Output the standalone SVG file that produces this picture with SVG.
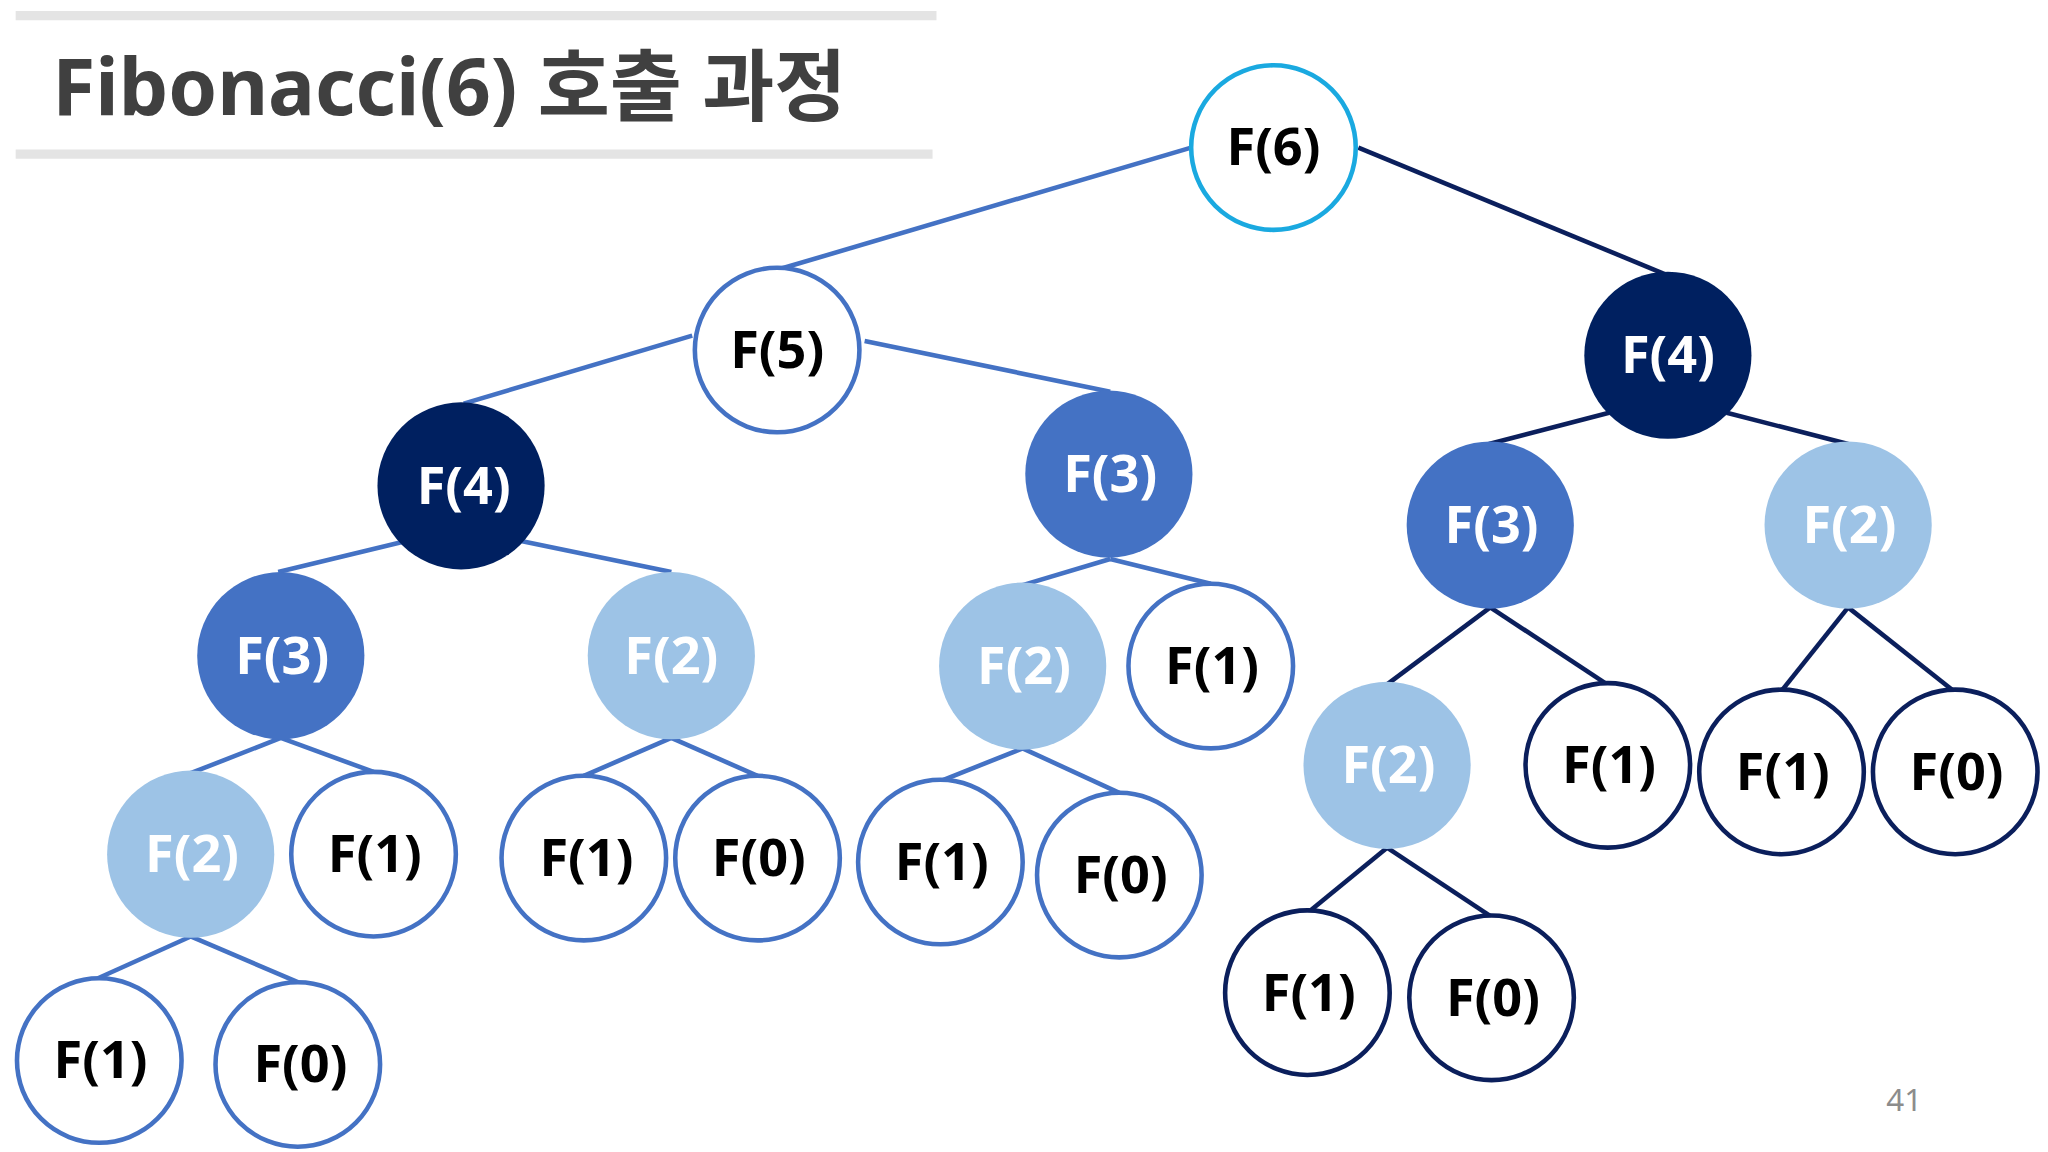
<svg xmlns="http://www.w3.org/2000/svg" width="2048" height="1152" viewBox="0 0 2048 1152">
<style>
text{font-family:"Noto Sans","Open Sans","Noto Sans CJK KR",sans-serif;font-weight:bold}
.n text{font-size:40px;text-anchor:middle;dominant-baseline:central}
.w circle{fill:#fff;stroke:#4472c4;stroke-width:3.5}
.k circle{fill:#fff;stroke:#0b1f5c;stroke-width:3.5}
.d circle{fill:#002060}
.m circle{fill:#4472c4}
.l circle{fill:#9dc3e6}
.d text,.m text,.l text{fill:#fff}
.w text,.k text{fill:#000}
.eb line{stroke:#4472c4;stroke-width:3.5}
.ed line{stroke:#0b1f5c;stroke-width:3.5}
</style>
<rect width="2048" height="1152" fill="#fff"/>
<g transform="scale(1.3061)">
<g id="title">
<line x1="12" y1="12" x2="717" y2="12" stroke="#e4e4e4" stroke-width="7"/>
<line x1="12" y1="118" x2="714" y2="118" stroke="#e4e4e4" stroke-width="7"/>
<text x="40" y="88" font-size="60" fill="#404040">Fibonacci(6) 호출 과정</text>
</g>
<g id="connectors">
<g class="eb">
<line x1="912" y1="113" x2="597" y2="206"/>
<line x1="530" y1="257" x2="355" y2="309"/>
<line x1="662" y1="261" x2="850" y2="300"/>
<line x1="308" y1="415" x2="213" y2="438"/>
<line x1="398" y1="414" x2="514" y2="438"/>
<line x1="850" y1="428" x2="783" y2="448"/>
<line x1="850" y1="428" x2="927" y2="447"/>
<line x1="215" y1="565" x2="146" y2="592"/>
<line x1="215" y1="565" x2="286" y2="591"/>
<line x1="514" y1="565" x2="447" y2="594"/>
<line x1="514" y1="565" x2="580" y2="594"/>
<line x1="783" y1="573" x2="720" y2="598"/>
<line x1="783" y1="573" x2="857" y2="607"/>
<line x1="146" y1="717" x2="75" y2="749"/>
<line x1="146" y1="717" x2="228" y2="752"/>
</g>
<g class="ed">
<line x1="1040" y1="113" x2="1275" y2="210"/>
<line x1="1232" y1="316" x2="1140" y2="340"/>
<line x1="1322" y1="316" x2="1415" y2="340"/>
<line x1="1141" y1="465" x2="1062" y2="524"/>
<line x1="1141" y1="465" x2="1229" y2="523"/>
<line x1="1415" y1="465" x2="1364" y2="529"/>
<line x1="1415" y1="465" x2="1497" y2="530"/>
<line x1="1062" y1="649" x2="1001" y2="699"/>
<line x1="1062" y1="649" x2="1142" y2="702"/>
</g>
</g>
<g class="n">
<g id="f6" class="w"><circle cx="975" cy="113" r="63" style="stroke:#1aa9e0"/><text x="975" y="111">F(6)</text></g>
<g id="f5" class="w"><circle cx="595" cy="268" r="63"/><text x="595" y="266">F(5)</text></g>
<g id="f4a" class="d"><circle cx="353" cy="372" r="64"/><text x="355" y="370">F(4)</text></g>
<g id="f3a" class="m"><circle cx="849" cy="363" r="64"/><text x="850" y="361">F(3)</text></g>
<g id="f4b" class="d"><circle cx="1277" cy="272" r="64"/><text x="1277" y="270">F(4)</text></g>
<g id="f3b" class="m"><circle cx="215" cy="502" r="64"/><text x="216" y="500">F(3)</text></g>
<g id="f2a" class="l"><circle cx="514" cy="502" r="64"/><text x="514" y="500">F(2)</text></g>
<g id="f2b" class="l"><circle cx="783" cy="510" r="64"/><text x="784" y="508">F(2)</text></g>
<g id="f1a" class="w"><circle cx="927" cy="510" r="63"/><text x="928" y="508">F(1)</text></g>
<g id="f3c" class="m"><circle cx="1141" cy="402" r="64"/><text x="1142" y="400">F(3)</text></g>
<g id="f2c" class="l"><circle cx="1415" cy="402" r="64"/><text x="1416" y="400">F(2)</text></g>
<g id="f2d" class="l"><circle cx="146" cy="654" r="64"/><text x="147" y="652">F(2)</text></g>
<g id="f1b" class="w"><circle cx="286" cy="654" r="63"/><text x="287" y="652">F(1)</text></g>
<g id="f1c" class="w"><circle cx="447" cy="657" r="63"/><text x="449" y="655">F(1)</text></g>
<g id="f0a" class="w"><circle cx="580" cy="657" r="63"/><text x="581" y="655">F(0)</text></g>
<g id="f1d" class="w"><circle cx="720" cy="660" r="63"/><text x="721" y="658">F(1)</text></g>
<g id="f0b" class="w"><circle cx="857" cy="670" r="63"/><text x="858" y="668">F(0)</text></g>
<g id="f2e" class="l"><circle cx="1062" cy="586" r="64"/><text x="1063" y="584">F(2)</text></g>
<g id="f1e" class="k"><circle cx="1231" cy="586" r="63"/><text x="1232" y="584">F(1)</text></g>
<g id="f1f" class="k"><circle cx="1364" cy="591" r="63"/><text x="1365" y="589">F(1)</text></g>
<g id="f0c" class="k"><circle cx="1497" cy="591" r="63"/><text x="1498" y="589">F(0)</text></g>
<g id="f1g" class="w"><circle cx="76" cy="812" r="63"/><text x="77" y="810">F(1)</text></g>
<g id="f0d" class="w"><circle cx="228" cy="815" r="63"/><text x="230" y="813">F(0)</text></g>
<g id="f1h" class="k"><circle cx="1001" cy="760" r="63"/><text x="1002" y="758">F(1)</text></g>
<g id="f0e" class="k"><circle cx="1142" cy="764" r="63"/><text x="1143" y="762">F(0)</text></g>
</g>
<text x="1458" y="851" font-size="24" text-anchor="middle" fill="#8c8c8c" style="font-weight:normal">41</text>
</g>
</svg>
